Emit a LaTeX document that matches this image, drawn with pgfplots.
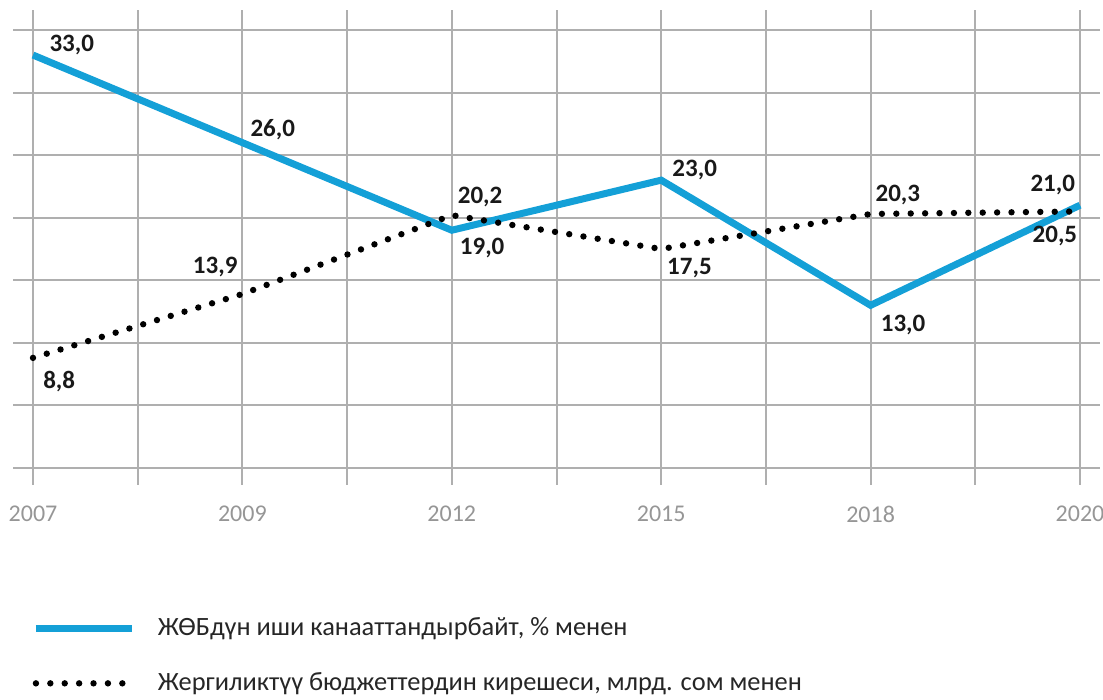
\documentclass[border=0pt]{standalone}
\usepackage{pgfplots}
\pgfplotsset{compat=1.18}
\usepackage{fontspec}
\setmainfont{Carlito}
\definecolor{lblue}{RGB}{20,160,215}
\definecolor{gridc}{RGB}{175,175,175}
\definecolor{tickc}{RGB}{150,150,150}
\begin{document}
\begin{tikzpicture}
\begin{axis}[
  scale only axis,
  width=543.5pt, height=237.5pt,
  xmin=-0.191, xmax=10.191,
  ymin=-1.36, ymax=36.6,
  axis line style={draw=none},
  xtick={0,1,...,10},
  xticklabels={2007,,2009,,2012,,2015,,2018,,2020},
  ytick={0,5,...,35},
  yticklabels={},
  major tick length=0pt,
  xmajorgrids, ymajorgrids,
  grid style={gridc, line width=1pt},
  xticklabel style={font=\fontsize{12}{14}\selectfont, text=tickc, yshift=-7pt},
  clip=false,
  legend style={draw=none, fill=none, at={(0.012,-0.262)}, anchor=north west,
    font=\fontsize{13.2}{15}\selectfont, text=black!85, row sep=13pt,
    cells={anchor=west}},
  legend image code/.code={\draw[#1] (0pt,0pt) -- (48pt,0pt); \path[draw=none,fill=none] (0pt,0pt) -- (59pt,0pt);},
]
\addplot[lblue, line width=3.5pt, line join=miter] coordinates {
  (0,33.0) (2,26.0) (4,19.0) (6,23.0) (8,13.0) (10,21.0)};
\addlegendentry{ЖӨБдүн иши канааттандырбайт, \% менен}
\addplot[black, line width=3.2pt, line cap=round, dash pattern=on 0pt off 7.2pt] coordinates {
  (0,8.8) (2,13.9) (4,20.2) (6,17.5) (8,20.3) (10,20.5)};
\addlegendentry{Жергиликтүү бюджеттердин кирешеси, млрд. сом менен}
\begin{scope}[every node/.style={font=\bfseries\fontsize{12.5}{14}\selectfont, text=black!90}]
\node at (axis cs:0.37,33.8) {33,0};
\node at (axis cs:2.29,27.0) {26,0};
\node at (axis cs:4.27,21.66) {20,2};
\node at (axis cs:4.29,17.6) {19,0};
\node at (axis cs:6.32,23.8) {23,0};
\node at (axis cs:6.27,16.0) {17,5};
\node at (axis cs:8.26,21.8) {20,3};
\node at (axis cs:8.31,11.4) {13,0};
\node at (axis cs:9.74,22.6) {21,0};
\node at (axis cs:9.76,18.5) {20,5};
\node at (axis cs:1.74,16.1) {13,9};
\node at (axis cs:0.25,6.9) {8,8};
\end{scope}
\end{axis}
\pgfresetboundingbox
\path ([shift={(-6.5pt,-107.5pt)}]current axis.south west) rectangle ([shift={(1.5pt,5pt)}]current axis.north east);
\end{tikzpicture}
\end{document}
